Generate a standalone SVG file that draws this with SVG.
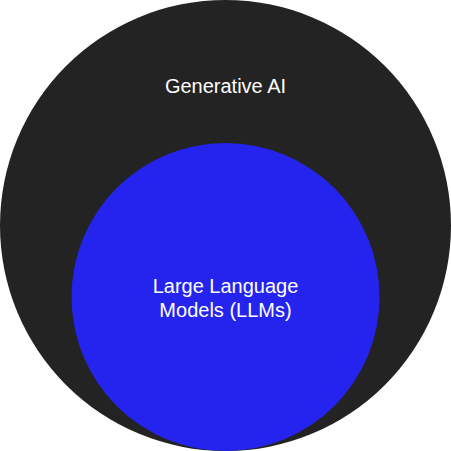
<svg xmlns="http://www.w3.org/2000/svg" width="451" height="451" viewBox="0 0 451 451">
<style>
.lbl{font-family:"Liberation Sans",Arial,sans-serif;font-size:20px;fill:#ffffff;text-anchor:middle}
</style>
<rect width="451" height="451" fill="#ffffff"/>
<g id="generative-ai">
<circle cx="225.5" cy="225.5" r="225.5" fill="#232323"/>
<text class="lbl" x="225.5" y="93">Generative AI</text>
</g>
<g id="llms">
<circle cx="225.5" cy="297" r="154" fill="#2424ee"/>
<text class="lbl" x="225.5" y="293">Large Language</text>
<text class="lbl" x="225.5" y="316.5">Models (LLMs)</text>
</g>
<g id="connectors"></g>
</svg>
